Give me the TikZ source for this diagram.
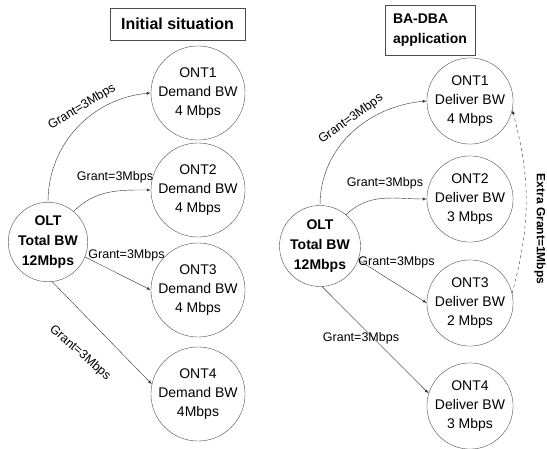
\documentclass[tikz,border=0pt]{standalone}
\usepackage{fontspec}
\setmainfont{Liberation Sans}
\usetikzlibrary{arrows}

\begin{document}
\begin{tikzpicture}[x=1pt,y=1pt]
\tikzset{font=\fontsize{14}{19}\selectfont}
\tikzset{ont/.style={draw=black!70, circle, minimum size=86pt, inner sep=0pt, align=center}}
\tikzset{olt/.style={draw=black!70, circle, minimum size=79pt, inner sep=0pt, align=center, font=\fontsize{14}{20}\selectfont\bfseries}}
\tikzset{titlebox/.style={draw=black!70, inner sep=0pt, font=\fontsize{16}{20}\selectfont\bfseries}}
\tikzset{grant/.style={inner sep=0pt, font=\fontsize{12.5}{15}\selectfont}}
\tikzset{link/.style={draw=black!80, -latex}}
\useasboundingbox (0,0) rectangle (547,448);
% initial situation
\node[titlebox, minimum width=135pt, minimum height=32pt] (titleL) at (177.5,424) {Initial situation};
\node[olt] (oltL) at (48,206) {OLT\\Total BW\\12Mbps};
\node[ont] (ont1L) at (198,355) {ONT1\\Demand BW\\4 Mbps};
\node[ont] (ont2L) at (198,258) {ONT2\\Demand BW\\4 Mbps};
\node[ont] (ont3L) at (198,158) {ONT3\\Demand BW\\4 Mbps};
\node[ont] (ont4L) at (198,54) {ONT4\\Demand BW\\4Mbps};
\draw[link] (oltL.north) to[out=90,in=185] (ont1L.west);
\draw[link] (oltL.50) to[out=45,in=180] (ont2L.west);
\draw[link] (oltL.-22) -- (ont3L.west);
\draw[link] (oltL.-84) -- (ont4L.168);
\node[grant, rotate=31] (g1L) at (82,341) {Grant=3Mbps};
\node[grant] (g2L) at (115,271) {Grant=3Mbps};
\node[grant] (g3L) at (126.5,193) {Grant=3Mbps};
\node[grant, rotate=-41] (g4L) at (80,95) {Grant=3Mbps};
% BA-DBA application
\node[titlebox, minimum width=90pt, minimum height=50pt, align=left, text width=74pt, font=\fontsize{14}{20}\selectfont\bfseries] (titleR) at (430,418) {BA-DBA\\application};
\node[olt, minimum size=81pt] (oltR) at (320,202) {OLT\\Total BW\\12Mbps};
\node[ont] (ont1R) at (470,347) {ONT1\\Deliver BW\\4 Mbps};
\node[ont] (ont2R) at (470,249) {ONT2\\Deliver BW\\3 Mbps};
\node[ont] (ont3R) at (470,145) {ONT3\\Deliver BW\\2 Mbps};
\node[ont] (ont4R) at (470,42) {ONT4\\Deliver BW\\3 Mbps};
\draw[link] (oltR.north) to[out=90,in=185] (ont1R.west);
\draw[link] (oltR.50) to[out=45,in=180] (ont2R.west);
\draw[link] (oltR.-20) -- (ont3R.west);
\draw[link] (oltR.-87) -- (ont4R.163);
\draw[link, dashed] (ont3R.13) to[bend right=15] (ont1R.-12);
\node[grant, rotate=36] (g1R) at (351,329) {Grant=3Mbps};
\node[grant] (g2R) at (385,265) {Grant=3Mbps};
\node[grant] (g3R) at (396.5,186) {Grant=3Mbps};
\node[grant] (g4R) at (361,110) {Grant=3Mbps};
\node[grant, rotate=-90, font=\fontsize{12}{14}\selectfont\bfseries] (extra) at (540,219) {Extra Grant=1Mbps};
\end{tikzpicture}
\end{document}
